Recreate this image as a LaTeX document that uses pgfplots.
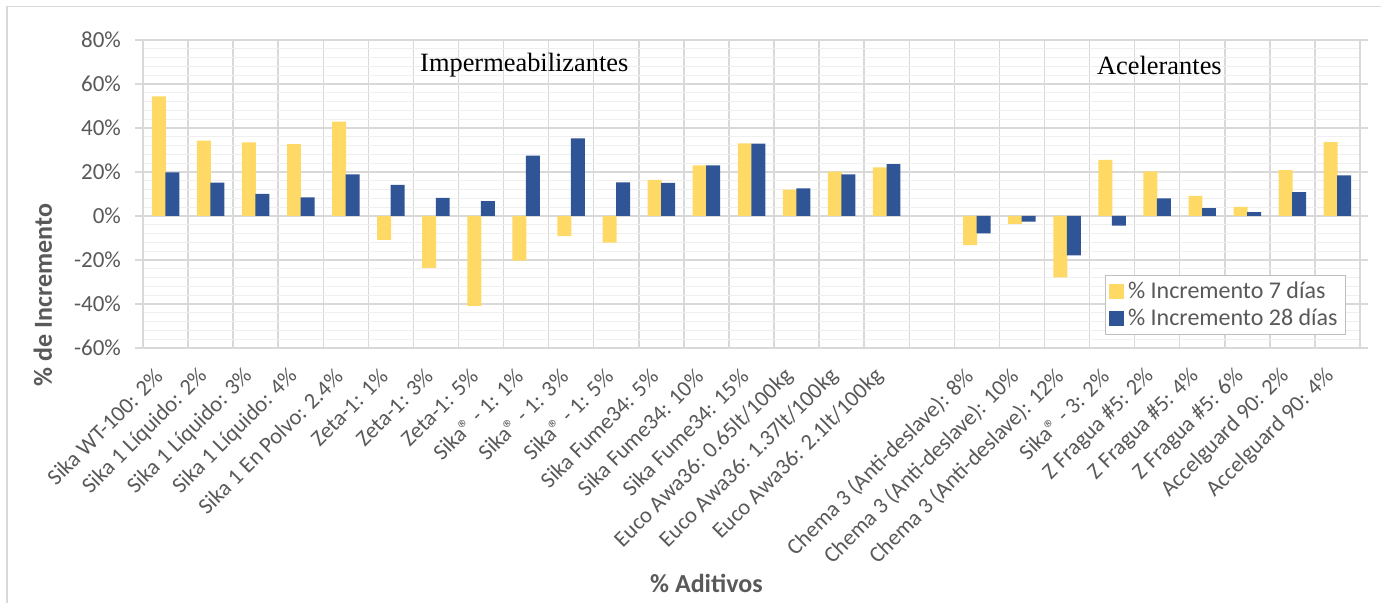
\documentclass[border=0pt]{standalone}
\usepackage{fontspec}
\setmainfont{Carlito}
\newfontfamily\tnr{Liberation Serif}
\usepackage{pgfplots}
\usepackage{pgfplotstable}
\pgfplotsset{compat=1.18}
\definecolor{cy}{HTML}{FFD966}
\definecolor{cb}{HTML}{2F5597}
\definecolor{gmaj}{HTML}{D9D9D9}
\definecolor{gmin}{HTML}{EFEFEF}
\definecolor{txt}{HTML}{595959}
\definecolor{lbord}{HTML}{BFBFBF}
\newcommand{\R}{®}
\pgfplotstableread{
x y7 y28
0 54.4 19.8
1 34.2 15.2
2 33.5 10.0
3 32.7 8.5
4 42.9 18.9
5 -10.9 14.1
6 -23.6 8.2
7 -40.9 6.8
8 -20.3 27.4
9 -9.1 35.3
10 -12.1 15.3
11 16.4 15.0
12 23.0 23.0
13 33.0 32.9
14 12.0 12.6
15 20.2 18.9
16 22.1 23.6
18 -13.2 -7.9
19 -3.6 -2.6
20 -27.9 -17.9
21 25.5 -4.4
22 20.3 8.0
23 9.1 3.6
24 4.1 1.7
25 20.9 10.9
26 33.6 18.5
}\data
\begin{document}
\begin{tikzpicture}[x=1pt,y=1pt]
\useasboundingbox (0,0) rectangle (690.5,301.5);
\draw[gmaj, line width=0.8pt] (3.5,0) -- (3.5,298.2) -- (690.5,298.2);
\begin{axis}[
  at={(71.5pt,127.5pt)}, anchor=south west,
  scale only axis, width=608.5pt, height=154pt,
  xmin=-0.5, xmax=26.5, ymin=-60, ymax=80,
  ybar, bar width=0.31,
  xtick={-0.5,0.5,...,26.5}, xticklabels={},
  x tick style={draw=none},
  xmajorgrids, ymajorgrids, yminorgrids,
  ytick={-60,-40,...,80},
  yticklabels={-60\%,-40\%,-20\%,0\%,20\%,40\%,60\%,80\%},
  minor y tick num=4,
  major grid style={gmaj, line width=0.75pt},
  minor grid style={gmin, line width=0.5pt},
  tick align=outside, major tick length=4pt, minor tick length=0pt,
  y tick style={gmaj, line width=0.75pt},
  axis line style={gmaj, line width=0.75pt},
  yticklabel style={font=\fontsize{11.5}{13}\selectfont, text=txt, xshift=-3.5pt},
  extra x ticks={0,...,26},
  extra x tick labels={{Sika WT-100: 2\%},{Sika 1 Líquido: 2\%},{Sika 1 Líquido: 3\%},{Sika 1 Líquido: 4\%},{Sika 1 En Polvo: 2.4\%},{Zeta-1: 1\%},{Zeta-1: 3\%},{Zeta-1: 5\%},{Sika\R{} - 1: 1\%},{Sika\R{} - 1: 3\%},{Sika\R{} - 1: 5\%},{Sika Fume34: 5\%},{Sika Fume34: 10\%},{Sika Fume34: 15\%},{Euco Awa36: 0.65lt/100kg},{Euco Awa36: 1.37lt/100kg},{Euco Awa36: 2.1lt/100kg},{},{Chema 3 (Anti-deslave): 8\%},{Chema 3 (Anti-deslave): 10\%},{Chema 3 (Anti-deslave): 12\%},{Sika\R{} - 3: 2\%},{Z Fragua \#5: 2\%},{Z Fragua \#5: 4\%},{Z Fragua \#5: 6\%},{Accelguard 90: 2\%},{Accelguard 90: 4\%}},
  extra x tick style={grid=none, major tick length=0pt, tick style={draw=none},
    xticklabel style={xshift=-1pt, yshift=-10pt, rotate=45, anchor=east, font=\fontsize{11.3}{13}\selectfont, text=txt}},
  ylabel={\% de Incremento}, xlabel={\% Aditivos},
  label style={font=\fontsize{13}{15}\selectfont\bfseries, text=txt},
  ylabel style={at={(axis description cs:-0.0822,0.172)}, rotate=0, anchor=center},
  xlabel style={at={(axis description cs:0.463,-0.766)}, anchor=center},
  legend style={at={(0.9885,0.237)}, anchor=north east, draw=lbord, fill=white,
    font=\fontsize{12}{14}\selectfont, text=txt, row sep=0pt, inner xsep=2pt, inner ysep=1pt},
  legend cell align=left,
]
\addlegendimage{legend image code/.code={\fill[cy] (0pt,-3.5pt) rectangle (7pt,3.5pt);}}
\addlegendimage{legend image code/.code={\fill[cb] (0pt,-3.5pt) rectangle (7pt,3.5pt);}}
\addplot[fill=cy, draw=none, forget plot, bar shift=-0.15] table[x=x,y=y7]{\data};
\addplot[fill=cb, draw=none, forget plot, bar shift=0.15] table[x=x,y=y28]{\data};
\legend{\% Incremento 7 días, \% Incremento 28 días}
\node[font=\tnr\fontsize{13.2}{15}\selectfont] at (axis cs:7.96,68.6) {Impermeabilizantes};
\node[font=\tnr\fontsize{13.2}{15}\selectfont] at (axis cs:22.05,68.6) {Acelerantes};
\end{axis}
\end{tikzpicture}
\end{document}
